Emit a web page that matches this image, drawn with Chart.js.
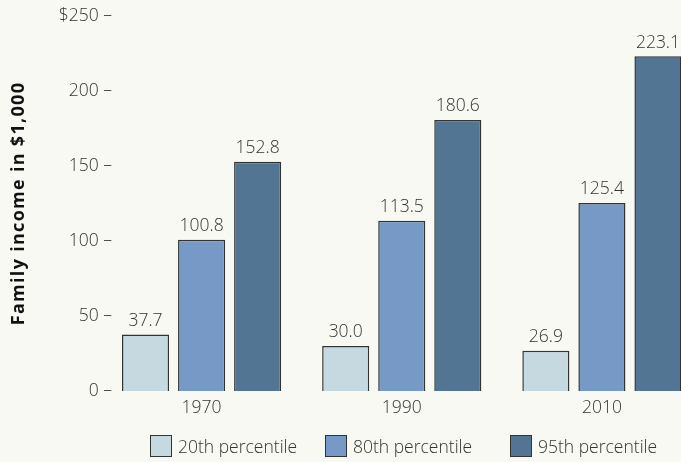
<!DOCTYPE html>
<html>
<head>
<meta charset="utf-8">
<script src="https://cdn.jsdelivr.net/npm/chart.js@4"></script>
<style>
  html, body { margin: 0; padding: 0; background: #f9f9f4; }
  #wrap { position: relative; width: 681px; height: 462px; overflow: hidden; }
  #box { position: absolute; left: 0; top: 0; width: 702px; height: 462px; }
  .leg { position: absolute; top: 434px; height: 23px; display: flex; align-items: center;
         font: 300 17.5px "Open Sans", sans-serif; color: #333; white-space: nowrap; }
  .leg i { display: inline-block; width: 20px; height: 20px; border: 1.5px solid #333; margin-right: 6px; }
</style>
</head>
<body>
<div id="wrap">
  <div id="box"><canvas id="chart" width="702" height="462"></canvas></div>
  <div id="legend"></div>
</div>
<script>
const years = ["1970", "1990", "2010"];
const seriesNames = ["20th percentile", "80th percentile", "95th percentile"];
const p20 = [37.7, 30.0, 26.9];
const p80 = [100.8, 113.5, 125.4];
const p95 = [152.8, 180.6, 223.1];
const yTicks = [0, 50, 100, 150, 200, 250];
const yTitle = "Family income in $1,000";

const colors = ["#c6d9e0", "#7799c5", "#537594"];
const legendLeft = [150, 325, 510];
const FONT = '"Open Sans", sans-serif';

// value labels above each bar
const valueLabels = {
    id: "valueLabels",
    afterDatasetsDraw(chart) {
        const ctx = chart.ctx;
        ctx.save();
        ctx.font = "300 17.5px " + FONT;
        ctx.fillStyle = "#333";
        ctx.textAlign = "center";
        ctx.textBaseline = "bottom";
        chart.data.datasets.forEach((ds, i) => {
            chart.getDatasetMeta(i).data.forEach((bar, j) => {
                ctx.fillText(ds.data[j].toFixed(1), bar.x, bar.y - 5);
            });
        });
        ctx.restore();
    },
};

// y tick labels ("200 –") reach past the plot's left edge, so draw them here
// from the y scale's own ticks; also the letter-spaced axis title
const yAxisText = {
    id: "yAxisText",
    afterDraw(chart) {
        const ctx = chart.ctx;
        const y = chart.scales.y;
        const a = chart.chartArea;
        ctx.save();
        ctx.font = "300 17.5px " + FONT;
        ctx.fillStyle = "#333";
        ctx.textAlign = "right";
        ctx.textBaseline = "middle";
        y.ticks.forEach((t) => {
            const label = (t.value === 250 ? "$" + t.value : t.value) + " \u2013";
            ctx.fillText(label, a.left + 10.5, y.getPixelForValue(t.value));
        });
        ctx.restore();

        ctx.save();
        ctx.translate(19, (a.top + a.bottom) / 2);
        ctx.rotate(-Math.PI / 2);
        ctx.font = "bold 18px " + FONT;
        ctx.letterSpacing = "1.3px";
        ctx.fillStyle = "#111";
        ctx.textAlign = "center";
        ctx.textBaseline = "middle";
        ctx.fillText(yTitle, 0, 0);
        ctx.restore();
    },
};

const datasets = [p20, p80, p95].map((vals, i) => ({
    label: seriesNames[i],
    data: vals,
    backgroundColor: colors[i],
    borderColor: "#333",
    borderWidth: 1.5,
    barPercentage: 0.84,
    categoryPercentage: 0.84,
}));

new Chart(document.getElementById("chart"), {
    type: "bar",
    data: { labels: years, datasets },
    options: {
        responsive: false,
        animation: false,
        devicePixelRatio: 1,
        layout: { padding: { top: 16, left: 0, right: 0, bottom: 0 } },
        plugins: { legend: { display: false }, tooltip: { enabled: false } },
        scales: {
            x: {
                grid: { display: false, drawTicks: false },
                border: { display: false },
                ticks: { color: "#333", font: { family: FONT, size: 17.5, weight: 300 }, padding: 7 },
                afterFit: (s) => { s.height = 71; },
            },
            y: {
                min: 0,
                max: 250,
                afterBuildTicks: (s) => { s.ticks = yTicks.map(v => ({ value: v })); },
                grid: { display: false, drawTicks: false },
                border: { display: false },
                ticks: { display: false },
                afterFit: (s) => { s.width = 101.5; },
            },
        },
    },
    plugins: [valueLabels, yAxisText],
});

// legend
const legend = document.getElementById("legend");
seriesNames.forEach((name, i) => {
    const d = document.createElement("div");
    d.className = "leg";
    d.style.left = legendLeft[i] + "px";
    d.innerHTML = '<i style="background:' + colors[i] + '"></i>' + name;
    legend.appendChild(d);
});
</script>
</body>
</html>
